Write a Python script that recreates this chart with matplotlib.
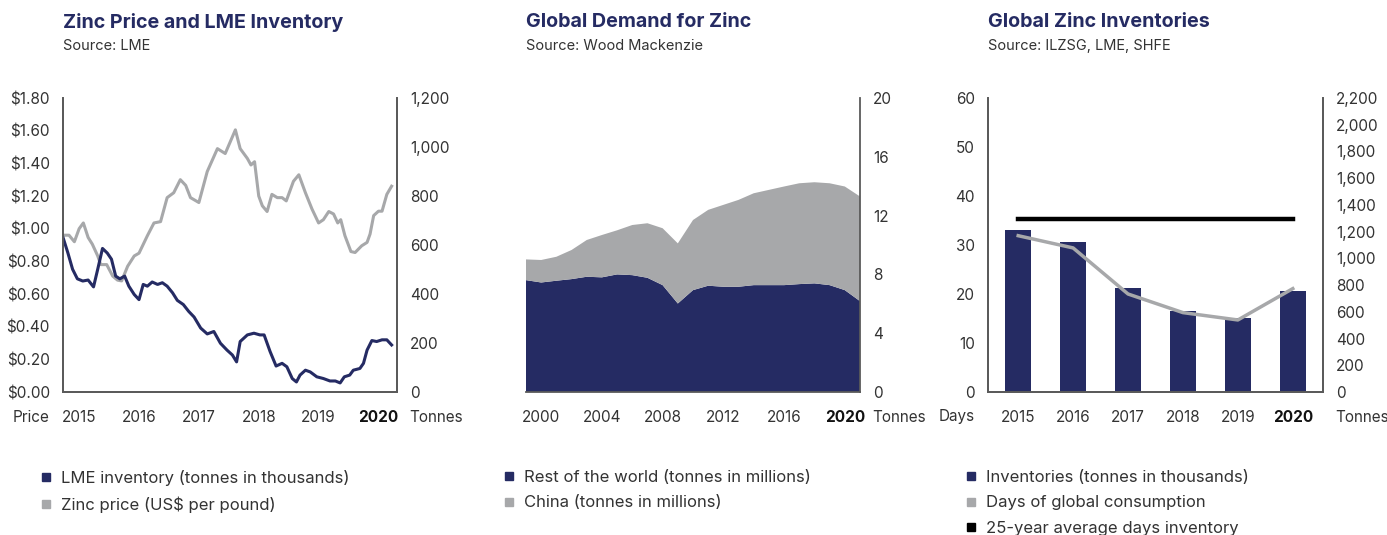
import matplotlib
matplotlib.use("Agg")
import matplotlib.pyplot as plt
from matplotlib.lines import Line2D
from matplotlib.ticker import FuncFormatter

plt.rcParams['font.family'] = ['Inter', 'DejaVu Sans']

NAVY = '#252b63'
GREY = '#a7a8aa'
SPINE = '#5a5a5a'
TEXT = '#333333'

# --- panel 1: zinc price and LME inventory (monthly, fractional years)
price_x = [2014.73, 2014.83, 2014.92, 2015.0, 2015.07, 2015.15, 2015.22, 2015.31, 2015.36, 2015.46,
           2015.56, 2015.64, 2015.71, 2015.81, 2015.92, 2016.0, 2016.14, 2016.25, 2016.36, 2016.47,
           2016.58, 2016.69, 2016.78, 2016.86, 2017.0, 2017.14, 2017.31, 2017.44, 2017.61, 2017.69,
           2017.81, 2017.87, 2017.93, 2018.0, 2018.06, 2018.14, 2018.22, 2018.31, 2018.39, 2018.46,
           2018.58, 2018.67, 2018.78, 2018.89, 2019.0, 2019.08, 2019.17, 2019.25, 2019.32, 2019.37,
           2019.44, 2019.54, 2019.61, 2019.72, 2019.81, 2019.86, 2019.92, 2020.0, 2020.06, 2020.14,
           2020.22]
price = [0.96, 0.96, 0.92, 1.00, 1.035, 0.946, 0.905, 0.833, 0.78, 0.78,
         0.71, 0.685, 0.68, 0.77, 0.833, 0.85, 0.957, 1.035, 1.043, 1.19,
         1.22, 1.30, 1.265, 1.19, 1.16, 1.35, 1.49, 1.46, 1.605, 1.49,
         1.43, 1.39, 1.41, 1.20, 1.14, 1.105, 1.21, 1.19, 1.19, 1.17,
         1.29, 1.33, 1.22, 1.12, 1.035, 1.055, 1.105, 1.09, 1.035, 1.055,
         0.957, 0.86, 0.854, 0.895, 0.916, 0.967, 1.08, 1.107, 1.107, 1.21,
         1.26]

inv_x = [2014.73, 2014.81, 2014.89, 2014.97, 2015.06, 2015.15, 2015.24, 2015.31, 2015.39, 2015.47,
         2015.54, 2015.61, 2015.68, 2015.76, 2015.83, 2015.92, 2016.0, 2016.07, 2016.14, 2016.22,
         2016.31, 2016.39, 2016.47, 2016.56, 2016.64, 2016.74, 2016.83, 2016.92, 2017.03, 2017.14,
         2017.25, 2017.36, 2017.47, 2017.56, 2017.63, 2017.69, 2017.81, 2017.92, 2018.02, 2018.09,
         2018.19, 2018.29, 2018.39, 2018.47, 2018.56, 2018.63, 2018.69, 2018.78, 2018.86, 2018.97,
         2019.08, 2019.19, 2019.28, 2019.36, 2019.43, 2019.52, 2019.58, 2019.69, 2019.75, 2019.81,
         2019.89, 2019.97, 2020.06, 2020.14, 2020.22]
lme_inv = [631, 569, 501, 462, 453, 457, 429, 501, 586, 567,
           542, 473, 462, 473, 432, 398, 377, 439, 432, 449,
           439, 446, 432, 405, 374, 357, 329, 306, 261, 237,
           247, 199, 171, 151, 123, 206, 233, 240, 233, 233,
           165, 106, 117, 103, 55, 41, 69, 89, 82, 62,
           55, 45, 45, 37, 62, 69, 89, 96, 117, 171,
           210, 206, 213, 213, 192]
years1 = [2015, 2016, 2017, 2018, 2019, 2020]

# --- panel 2: global demand (annual, million tonnes)
years2 = list(range(1999, 2022))
rest_of_world = [7.61, 7.45, 7.57, 7.68, 7.84, 7.80, 8.00, 7.95, 7.77, 7.27, 6.02, 6.93,
                 7.23, 7.16, 7.16, 7.27, 7.27, 7.27, 7.34, 7.39, 7.27, 6.93, 6.18]
china = [1.41, 1.53, 1.63, 1.98, 2.50, 2.88, 3.00, 3.41, 3.71, 3.87, 4.09, 4.77,
         5.16, 5.57, 5.91, 6.25, 6.48, 6.71, 6.86, 6.88, 6.93, 7.05, 7.12]
tick_years2 = [2000, 2004, 2008, 2012, 2016, 2020]

# --- panel 3: global inventories
years3 = ['2015', '2016', '2017', '2018', '2019', '2020']
inventories = [1214, 1121, 778, 607, 554, 758]
days_consumption = [31.9, 29.4, 20.0, 16.2, 14.7, 21.1]
avg_days = 35.3

fig = plt.figure(figsize=(13.87, 5.35), dpi=100)
W, H = 1387, 535


def axes_px(x0, x1, y0, y1):
    return fig.add_axes([x0 / W, 1 - y1 / H, (x1 - x0) / W, (y1 - y0) / H])


def style(ax, left=True):
    ax.spines['top'].set_visible(False)
    ax.spines['left'].set_visible(left)
    for s in ['left', 'right', 'bottom']:
        ax.spines[s].set_color(SPINE)
        ax.spines[s].set_linewidth(1.3)
    ax.tick_params(length=0, labelsize=11, colors=TEXT)
    ax.tick_params(axis='y', pad=9.5)
    ax.tick_params(axis='x', pad=13)


def bold_last(ax):
    lbls = ax.get_xticklabels()
    lbls[-1].set_fontweight('bold')
    lbls[-1].set_color('#111111')


def corner_label(ax, txt, side):
    if side == 'left':
        ax.annotate(txt, xy=(0, 0), xycoords='axes fraction', xytext=(-9.5, -18),
                    textcoords='offset points', ha='right', va='center', fontsize=11, color=TEXT)
    else:
        ax.annotate(txt, xy=(1, 0), xycoords='axes fraction', xytext=(9, -18),
                    textcoords='offset points', ha='left', va='center', fontsize=11, color=TEXT)


def titles(x, title, source):
    fig.text(x / W, 1 - 22 / H, title, fontsize=14.2, fontweight='bold', color=NAVY, va='center')
    fig.text(x / W, 1 - 46 / H, source, fontsize=10.5, color=TEXT, va='center')


def legend(x, items):
    handles = [Line2D([], [], marker='s', ls='none', ms=6, color=c) for c, _ in items]
    fig.legend(handles, [t for _, t in items], loc='upper left',
               bbox_to_anchor=(x / W, 1 - 470 / H), frameon=False, fontsize=12,
               handletextpad=0.4, handlelength=1.0, labelspacing=0.62,
               borderaxespad=0, borderpad=0, labelcolor=TEXT)


# panel 1
ax1 = axes_px(63, 397, 98, 392)
style(ax1)
ax1.plot(price_x, price, color=GREY, lw=2.2)
ax1.set_ylim(0, 1.8)
ax1.set_yticks([i * 0.2 for i in range(10)])
ax1.yaxis.set_major_formatter(FuncFormatter(lambda v, p: f'${v:.2f}'))
ax1.set_xlim(2014.73, 2020.31)
ax1.set_xticks(years1)
ax1.set_xticklabels([str(y) for y in years1])
bold_last(ax1)
ax1b = ax1.twinx()
style(ax1b)
ax1b.plot(inv_x, lme_inv, color=NAVY, lw=2.2)
ax1b.set_ylim(0, 1200)
ax1b.set_yticks(range(0, 1201, 200))
ax1b.yaxis.set_major_formatter(FuncFormatter(lambda v, p: f'{int(v):,}'))
corner_label(ax1, 'Price', 'left')
corner_label(ax1, 'Tonnes', 'right')
titles(63, 'Zinc Price and LME Inventory', 'Source: LME')
legend(38, [(NAVY, 'LME inventory (tonnes in thousands)'), (GREY, 'Zinc price (US$ per pound)')])

# panel 2
ax2 = axes_px(526, 860, 98, 392)
style(ax2, left=False)
ax2.stackplot(years2, rest_of_world, china, colors=[NAVY, GREY], lw=0)
ax2.yaxis.tick_right()
ax2.spines['right'].set_visible(True)
ax2.set_ylim(0, 20)
ax2.set_yticks(range(0, 21, 4))
ax2.set_xlim(1999, 2021)
ax2.set_xticks(tick_years2)
ax2.set_xticklabels([str(y) for y in tick_years2])
bold_last(ax2)
corner_label(ax2, 'Tonnes', 'right')
titles(526, 'Global Demand for Zinc', 'Source: Wood Mackenzie')
legend(501, [(NAVY, 'Rest of the world (tonnes in millions)'), (GREY, 'China (tonnes in millions)')])

# panel 3
ax3 = axes_px(988, 1323, 98, 392)
style(ax3)
ax3b = ax3.twinx()
style(ax3b)
xpos = list(range(len(years3)))
ax3b.bar(xpos, inventories, width=0.47, color=NAVY)
ax3b.set_ylim(0, 2200)
ax3b.set_yticks(range(0, 2201, 200))
ax3b.yaxis.set_major_formatter(FuncFormatter(lambda v, p: f'{int(v):,}'))
ax3.set_zorder(ax3b.get_zorder() + 1)
ax3.patch.set_visible(False)
ax3.plot(xpos, days_consumption, color=GREY, lw=2.5)
ax3.plot([xpos[0], xpos[-1]], [avg_days, avg_days], color='black', lw=3.2)
ax3.set_ylim(0, 60)
ax3.set_yticks(range(0, 61, 10))
ax3.set_xlim(-0.55, 5.55)
ax3.set_xticks(xpos)
ax3.set_xticklabels(years3)
bold_last(ax3)
corner_label(ax3, 'Days', 'left')
corner_label(ax3, 'Tonnes', 'right')
titles(988, 'Global Zinc Inventories', 'Source: ILZSG, LME, SHFE')
legend(963, [(NAVY, 'Inventories (tonnes in thousands)'), (GREY, 'Days of global consumption'),
             ('black', '25-year average days inventory')])

fig.savefig('out.png', dpi=100)
